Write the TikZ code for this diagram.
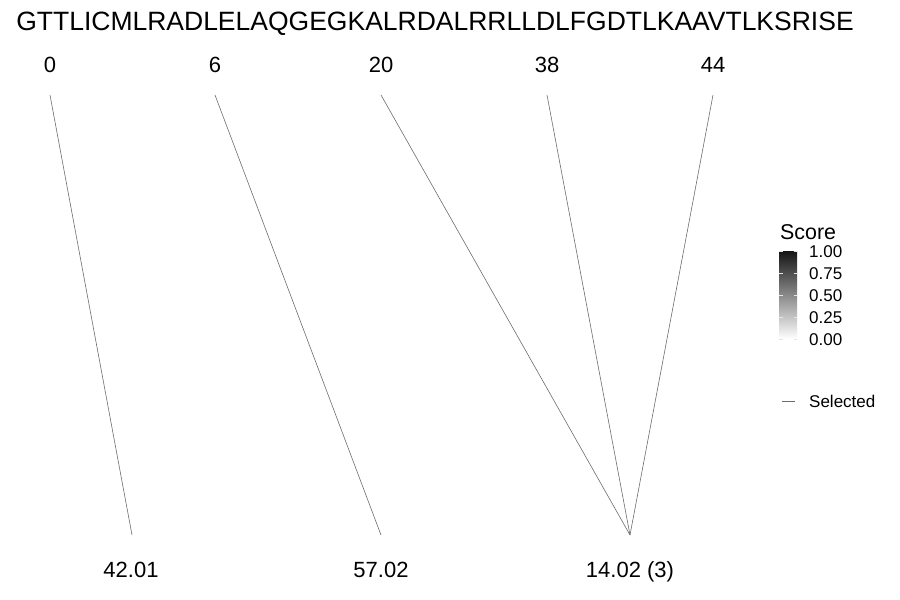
\documentclass[tikz,border=0pt]{standalone}
\usepackage{fontspec}
\setmainfont{Liberation Sans}
\tikzset{
	poslabel/.style={font=\fontsize{22}{26}\selectfont, inner sep=0pt, anchor=base},
	link/.style={gray!85!black, line width=0.6pt},
	legtxt/.style={font=\fontsize{17}{20}\selectfont, inner sep=0pt, anchor=base west},
}
\begin{document}
\begin{tikzpicture}[x=1pt, y=-1pt]
		\useasboundingbox (0,0) rectangle (900,600);
		\node[poslabel, font=\fontsize{26.5}{30}\selectfont] (seq) at (435,30) {GTTLICMLRADLELAQGEGKALRDALRRLLDLFGDTLKAAVTLKSRISE};
		% start positions
		\node[poslabel] (p0) at (50,72) {0};
		\node[poslabel] (p6) at (215,72) {6};
		\node[poslabel] (p20) at (381,72) {20};
		\node[poslabel] (p38) at (547,72) {38};
		\node[poslabel] (p44) at (713,72) {44};
		\coordinate (t0) at (50,95);
		\coordinate (t6) at (215,95);
		\coordinate (t20) at (381,95);
		\coordinate (t38) at (547,95);
		\coordinate (t44) at (713,95);
		% scores
		\node[poslabel] (s1) at (131,577) {42.01};
		\node[poslabel] (s2) at (381,577) {57.02};
		\node[poslabel] (s3) at (630,577) {14.02 (3)};
		\coordinate (b1) at (132,535);
		\coordinate (b2) at (381,535);
		\coordinate (b3) at (630,535);
		\draw[link] (t0) -- (b1);
		\draw[link] (t6) -- (b2);
		\draw[link] (t20) -- (b3);
		\draw[link] (t38) -- (b3);
		\draw[link] (t44) -- (b3);
		% legend
		\node[legtxt, font=\fontsize{21.4}{24}\selectfont] (title) at (780,239) {Score};
		\shade[top color=black!92, bottom color=white] (779,251) rectangle (797,339);
		\foreach \v/\y in {1.00/251, 0.75/273, 0.50/295, 0.25/317, 0.00/339} {
			\draw[white!80!gray, line width=0.5pt] (779,\y) -- (782.5,\y);
			\draw[white!80!gray, line width=0.5pt] (793.5,\y) -- (797,\y);
			\node[legtxt] at (809,\y+6) {\v};
		}
		\coordinate (k1) at (782,401);
		\coordinate (k2) at (795,401);
		\draw[link] (k1) -- (k2);
		\node[legtxt] (sel) at (809,407) {Selected};
	\end{tikzpicture}
\end{document}
